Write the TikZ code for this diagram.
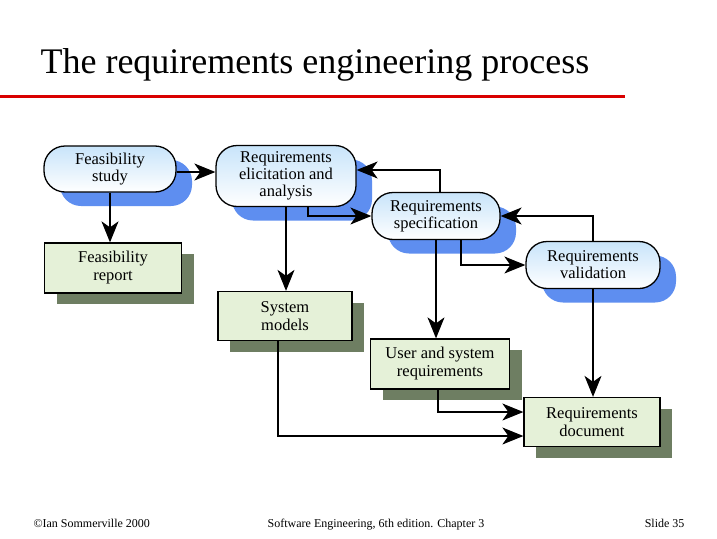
\documentclass[tikz,border=0pt]{standalone}
\usepackage{fontspec}
\setmainfont{Liberation Serif}
\usetikzlibrary{arrows.meta,shadows,calc}
\begin{document}
\begin{tikzpicture}[x=1pt,y=-1pt,
  pill/.style={draw=black,line width=1.3pt,rounded corners=21pt,top color=pilltop,bottom color=white,
    align=center,font=\fontsize{16.5}{17}\selectfont,inner sep=0pt,
    drop shadow={shadow xshift=16pt,shadow yshift=-14pt,fill=shblue,opacity=1}},
  doc/.style={draw=black,line width=1.3pt,fill=docgreen,align=center,font=\fontsize{16.5}{18}\selectfont,inner sep=0pt,
    drop shadow={shadow xshift=12pt,shadow yshift=-11pt,fill=shgreen,opacity=1}},
  arr/.style={line width=1.1pt,-{Stealth[length=21pt,width=17pt,inset=6pt]}}]
\definecolor{shblue}{HTML}{5E8EF0}
\definecolor{shgreen}{HTML}{6E7E62}
\definecolor{docgreen}{HTML}{E5F1D8}
\definecolor{pilltop}{HTML}{C8E4FA}
\useasboundingbox (0,0) rectangle (717,538);
\fill[white] (0,0) rectangle (717,538);
\node[anchor=base west,font=\fontsize{36}{38}\selectfont] (title) at (37,73) {The requirements engineering process};
\draw[red!85!black,line width=3pt] (0,96) -- (625,96);
\node[pill,minimum width=132pt,minimum height=46pt] (fs) at (110,169) {Feasibility\\study};
\node[pill,minimum width=140pt,minimum height=61pt] (re) at (286,176) {Requirements\\elicitation and\\analysis};
\node[pill,minimum width=128pt,minimum height=47pt] (rs) at (436,216) {Requirements\\specification};
\node[pill,minimum width=134pt,minimum height=47pt] (rv) at (593,265) {Requirements\\validation};
\node[doc,minimum width=137pt,minimum height=50pt] (fr) at (113,268) {Feasibility\\report};
\node[doc,minimum width=134pt,minimum height=49pt] (sm) at (285,316) {System\\models};
\node[doc,minimum width=139pt,minimum height=50pt] (ur) at (440,364) {User and system\\requirements};
\node[doc,minimum width=136pt,minimum height=49pt] (rd) at (592,422) {Requirements\\document};
\draw[arr] ($(fs.east)+(0,3)$) -- ($(fs.east -| re.west)+(0,3)$);
\draw[arr] (fs.south) -- (fs.south |- fr.north);
\draw[arr] (re.south) -- (re.south |- sm.north);
\draw[arr] ($(re.south)+(22,0)$) |- (rs.west);
\draw[arr] ($(rs.north)+(4,0)$) |- ($(re.east)+(0,-6)$);
\draw[arr] (rs.south) -- (rs.south |- ur.north);
\draw[arr] ($(rs.south)+(25,0)$) |- (rv.west);
\draw[arr] (rv.north) |- (rs.east);
\draw[arr] (rv.south) -- (rv.south |- rd.north);
\draw[arr] ($(ur.south)+(-2,0)$) |- ($(rd.west)+(0,-10)$);
\draw[arr] ($(sm.south)+(-7,0)$) |- ($(rd.west)+(0,14)$);
\node[anchor=base west,font=\fontsize{12}{13}\selectfont] (c) at (30,527) {©Ian Sommerville 2000};
\node[anchor=base,font=\fontsize{12}{13}\selectfont] (se) at (376,527) {Software Engineering, 6th edition. Chapter 3};
\node[anchor=base east,font=\fontsize{12}{13}\selectfont] (sl) at (688,527) {Slide  35};
\end{tikzpicture}
\end{document}
